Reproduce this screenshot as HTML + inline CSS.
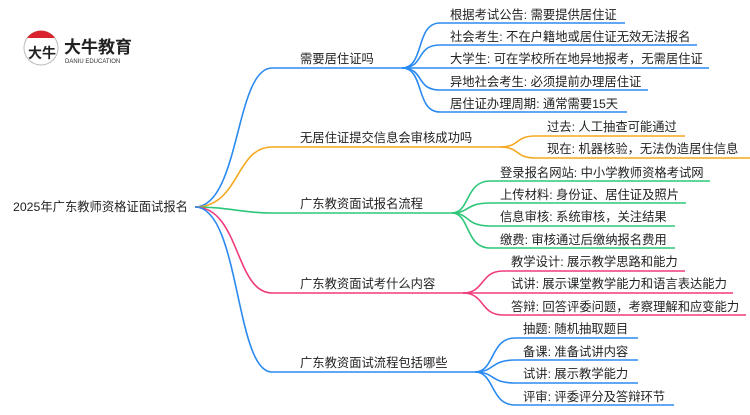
<!DOCTYPE html>
<html><head><meta charset="utf-8"><style>
html,body{margin:0;padding:0;background:#fff;}
svg text{font-family:"Liberation Sans","Noto Sans CJK SC",sans-serif;font-size:12.3px;fill:#222;}
</style></head><body>
<svg width="750" height="410" viewBox="0 0 750 410" xmlns="http://www.w3.org/2000/svg">
<g fill="none" stroke-width="1.6">
<g stroke="#2b8af0">
<path d="M195,207 C240,207 235,68 272,68 L402,68"/>
<path d="M402,68 C425,68 415,23 440,23 L625,23"/>
<path d="M402,68 C425,68 415,45 440,45 L697,45"/>
<path d="M402,68 L709,68"/>
<path d="M402,68 C425,68 415,90 440,90 L648,90"/>
<path d="M402,68 C425,68 415,112 440,112 L627,112"/>
</g>
<g stroke="#f5a81e">
<path d="M195,207 C240,207 235,147 272,147 L500,147"/>
<path d="M500,147 C520,147 515,136 535,136 L685,136"/>
<path d="M500,147 C520,147 515,158 535,158 L750,158"/>
</g>
<g stroke="#2ec77a">
<path d="M195,207 C230,207 240,213 272,213 L452,213"/>
<path d="M452,213 C470,213 465,181 490,181 L710,181"/>
<path d="M452,213 C470,213 465,203 490,203 L686,203"/>
<path d="M452,213 C470,213 465,226 490,226 L675,226"/>
<path d="M452,213 C470,213 465,248 490,248 L675,248"/>
</g>
<g stroke="#ef3b7d">
<path d="M195,207 C240,207 235,293 272,293 L463,293"/>
<path d="M463,293 C485,293 480,271 503,271 L685,271"/>
<path d="M463,293 L733,293"/>
<path d="M463,293 C485,293 480,315 503,315 L746,315"/>
</g>
<g stroke="#2b8af0">
<path d="M195,207 C240,207 235,372 272,372 L475,372"/>
<path d="M475,372 C495,372 490,338 515,338 L638,338"/>
<path d="M475,372 C495,372 490,360 515,360 L638,360"/>
<path d="M475,372 C495,372 490,383 515,383 L638,383"/>
<path d="M475,372 C495,372 490,405 515,405 L674,405"/>
</g>
</g>
<circle cx="41" cy="48" r="17" fill="#fff" stroke="#bbb" stroke-width="1"/>
<path d="M27,38 A17,17 0 0 1 55,38 Z" fill="#d9232d"/>
<text x="28" y="58" style="font-size:14px;font-weight:bold;fill:#222">大牛</text>
<text x="64" y="53" style="font-size:17px;font-weight:bold;fill:#222">大牛教育</text>
<text x="65" y="63" style="font-size:6px;fill:#333">DANIU EDUCATION</text>
<text x="13" y="211">2025年广东教师资格证面试报名</text>
<text x="300" y="63">需要居住证吗</text>
<text x="300" y="142">无居住证提交信息会审核成功吗</text>
<text x="300" y="208">广东教资面试报名流程</text>
<text x="300" y="288">广东教资面试考什么内容</text>
<text x="300" y="367">广东教资面试流程包括哪些</text>
<text x="450" y="19">根据考试公告: 需要提供居住证</text>
<text x="450" y="41">社会考生: 不在户籍地或居住证无效无法报名</text>
<text x="450" y="63">大学生: 可在学校所在地异地报考，无需居住证</text>
<text x="450" y="86">异地社会考生: 必须提前办理居住证</text>
<text x="450" y="108">居住证办理周期: 通常需要15天</text>
<text x="547" y="131">过去: 人工抽查可能通过</text>
<text x="547" y="153">现在: 机器核验，无法伪造居住信息</text>
<text x="500" y="177">登录报名网站: 中小学教师资格考试网</text>
<text x="500" y="199">上传材料: 身份证、居住证及照片</text>
<text x="500" y="221">信息审核: 系统审核，关注结果</text>
<text x="500" y="244">缴费: 审核通过后缴纳报名费用</text>
<text x="511" y="266">教学设计: 展示教学思路和能力</text>
<text x="511" y="288">试讲: 展示课堂教学能力和语言表达能力</text>
<text x="511" y="311">答辩: 回答评委问题，考察理解和应变能力</text>
<text x="523" y="333">抽题: 随机抽取题目</text>
<text x="523" y="356">备课: 准备试讲内容</text>
<text x="523" y="378">试讲: 展示教学能力</text>
<text x="523" y="401">评审: 评委评分及答辩环节</text>
</svg>
</body></html>
